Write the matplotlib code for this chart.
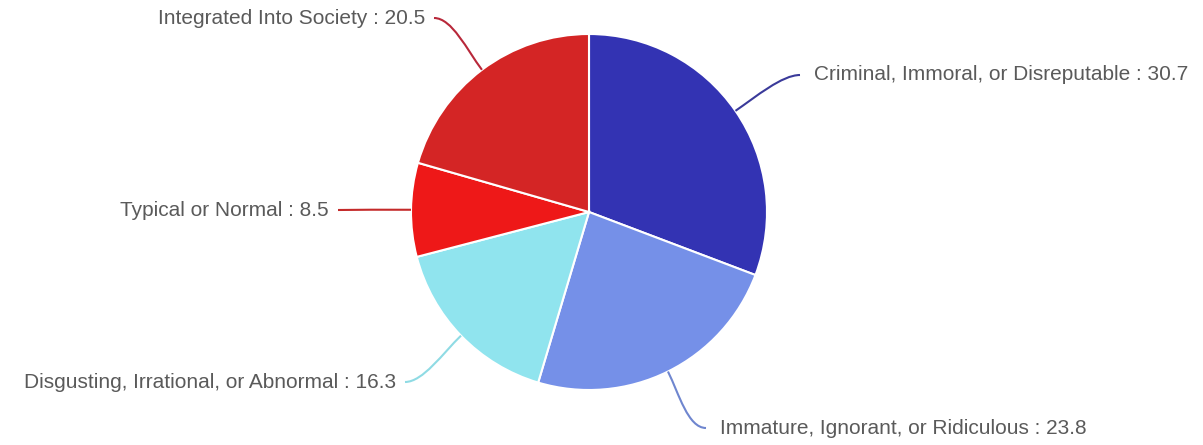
import matplotlib.pyplot as plt
import numpy as np
from matplotlib.path import Path
from matplotlib.patches import PathPatch

plt.rcParams['font.family'] = ['Liberation Sans', 'DejaVu Sans']

categories = ["Criminal, Immoral, or Disreputable", "Immature, Ignorant, or Ridiculous",
              "Disgusting, Irrational, or Abnormal", "Typical or Normal", "Integrated Into Society"]
values = [30.7, 23.8, 16.3, 8.5, 20.5]
colors = ["#3333b3", "#7590e8", "#90e4ee", "#ee1818", "#d42525"]
line_colors = ["#3a3a9a", "#6f86cf", "#8fdbe4", "#c42a2a", "#b8283a"]

W, H = 1203, 445
cx, cy, r = 589, H - 212, 178
# where the connector ends (pixel coords from top-left)
label_ends = [(800, 75), (706, 428), (405, 382), (338, 210), (434, 18)]

fig = plt.figure(figsize=(W / 100, H / 100), dpi=100)
ax = fig.add_axes([0, 0, 1, 1])

wedges, _ = ax.pie(values, colors=colors, startangle=90, counterclock=False,
                   center=(cx, cy), radius=r, frame=True,
                   wedgeprops=dict(edgecolor='white', linewidth=1.5))
ax.set_xlim(0, W)
ax.set_ylim(0, H)
ax.set_aspect('equal')
ax.axis('off')

for w, name, val, lc, (ex, ey) in zip(wedges, categories, values, line_colors, label_ends):
    ang = np.deg2rad((w.theta1 + w.theta2) / 2)
    sx, sy = cx + r * np.cos(ang), cy + r * np.sin(ang)
    ey = H - ey
    side = 1 if ex > cx else -1
    p1 = (sx + 25 * np.cos(ang), sy + 25 * np.sin(ang))
    p2 = (ex - side * 18, ey)
    path = Path([(sx, sy), p1, p2, (ex, ey)],
                [Path.MOVETO, Path.CURVE4, Path.CURVE4, Path.CURVE4])
    ax.add_patch(PathPatch(path, facecolor='none', edgecolor=lc, lw=1.5))
    gap = 14 if side > 0 else 9
    ax.text(ex + side * gap, ey, f"{name} : {val}", ha='left' if side > 0 else 'right',
            va='center', fontsize=15, color='#5a5a5a')

fig.savefig("out.png", dpi=100)
